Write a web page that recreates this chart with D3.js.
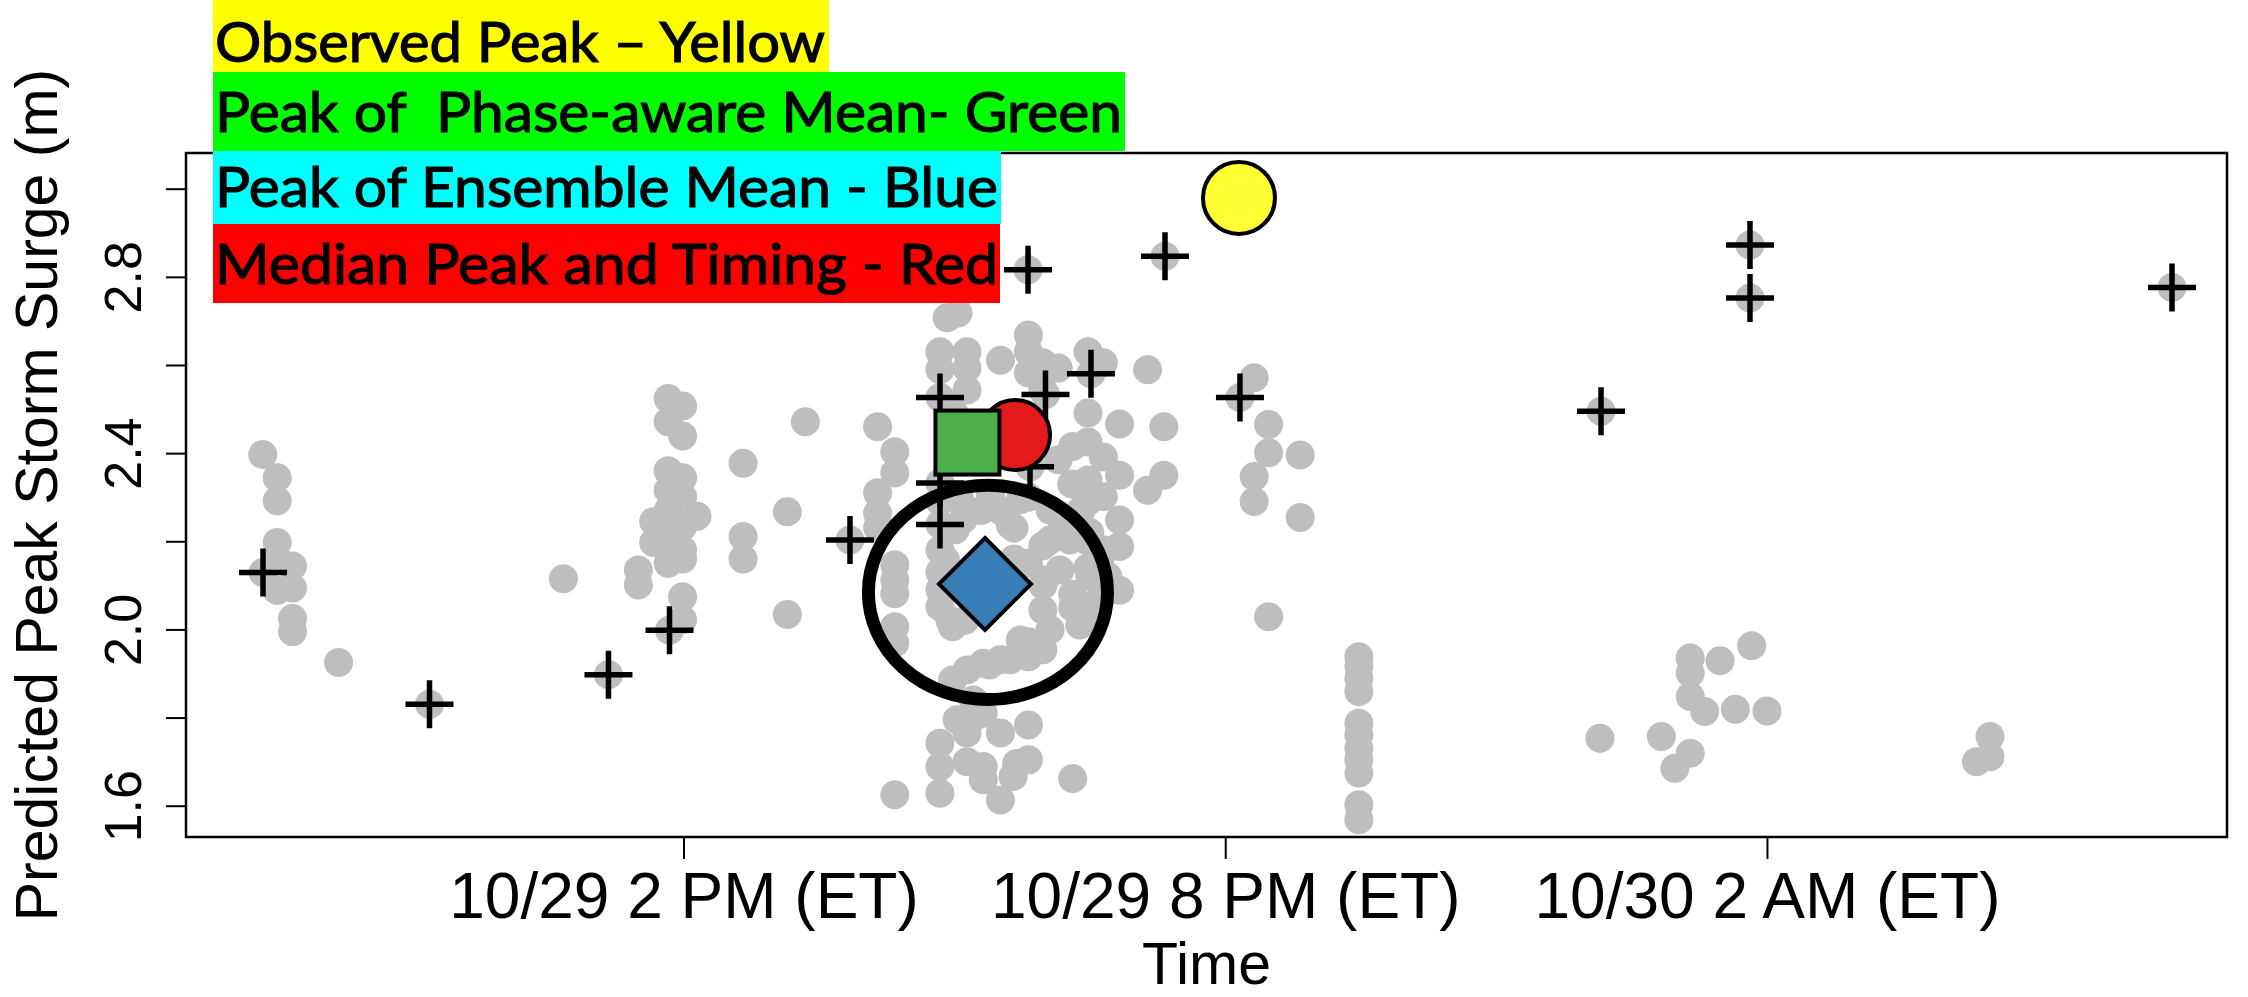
<!DOCTYPE html>
<html>
<head>
<meta charset="utf-8">
<script src="https://cdn.jsdelivr.net/npm/d3@7"></script>
<style>
  html, body { margin: 0; padding: 0; background: #fff; overflow: hidden; }
  svg { display: block; }
  .legend-text { white-space: pre; }
</style>
</head>
<body>
<svg id="chart" width="2248" height="997"></svg>
<script>
// Time is measured in hours from 10/29 00:00 ET; surge in metres.

// Peak timing / height of every ensemble member (grey dots)
const memberPeaks = [
  [9.34,2.397],[9.50,2.344],[9.50,2.292],[9.50,2.197],[9.50,2.160],[9.67,2.144],[9.67,2.094],
  [9.50,2.089],[9.67,2.025],[9.67,1.995],[10.18,1.925],
  [12.67,2.115],
  [13.83,2.524],[13.99,2.507],[13.83,2.471],[13.99,2.439],[13.99,2.344],[13.83,2.360],[13.83,2.316],
  [13.99,2.301],[13.83,2.270],[14.15,2.257],[13.67,2.245],[13.99,2.233],[13.83,2.211],[13.67,2.197],
  [13.99,2.180],[13.99,2.160],[13.83,2.150],[13.50,2.135],[13.50,2.101],[13.99,2.074],[13.99,2.022],
  [15.35,2.471],[14.66,2.377],[15.15,2.267],[14.66,2.211],[14.66,2.160],[15.15,2.034],[16.15,2.460],
  [16.34,2.403],[16.34,2.355],[16.15,2.310],[16.15,2.264],[16.15,2.231],[16.34,2.147],[16.34,2.112],
  [16.34,2.081],[16.34,2.006],[16.34,1.969],
  [16.92,2.707],[17.04,2.718],[16.84,2.630],[17.14,2.630],[16.84,2.589],[17.14,2.593],[17.14,2.543],
  [17.00,2.490],
  [17.51,2.611],[17.82,2.668],[17.82,2.630],[17.98,2.605],[17.82,2.582],[18.15,2.593],[17.98,2.543],
  [18.48,2.630],[18.65,2.605],[19.14,2.589],[18.48,2.491],[18.48,2.425],[18.83,2.466],[19.32,2.460],
  [18.31,2.415],[18.65,2.391],[18.83,2.350],[19.32,2.350],[19.14,2.316],[18.48,2.339],[18.65,2.301],
  [18.83,2.248],[18.83,2.188],[18.83,2.089],[18.15,2.385],[18.30,2.330],[18.40,2.270],[18.50,2.220],
  [18.65,2.180],[18.50,2.120],[18.31,2.050],
  [16.84,2.290],[16.84,2.180],[16.84,2.130],[16.84,2.090],[16.84,2.052],[16.98,2.006],[17.14,2.270],
  [17.51,2.270],[17.66,2.230],[17.82,2.300],[17.98,2.190],[17.82,2.150],[17.98,2.100],[17.98,2.044],
  [17.66,2.160],[18.48,2.290],[18.48,2.200],[18.48,2.140],[18.48,2.029],[18.31,2.250],[18.31,2.080],
  [17.30,2.270],[17.10,2.250],
  [17.06,2.294],[17.40,2.305],[17.73,2.294],[18.06,2.271],[18.28,2.203],[18.17,2.135],[18.34,2.067],
  [18.61,2.158],[18.61,2.067],[18.00,2.112],[18.06,2.203],[17.62,2.237],[17.01,2.226],[16.90,2.158],
  [16.95,2.021],[18.06,1.999],[18.39,2.010],[17.12,2.021],[18.20,2.240],[18.70,2.120],
  [17.73,1.976],[17.82,1.972],[17.82,1.938],[17.14,1.908],[17.32,1.923],[17.51,1.931],[16.98,1.885],
  [17.98,1.954],[17.62,1.931],[17.39,1.919],
  [17.21,1.840],[17.32,1.810],[17.51,1.765],[16.84,1.742],[17.14,1.765],[17.82,1.783],[17.82,1.704],
  [17.69,1.696],[17.32,1.689],[17.65,1.666],[17.32,1.659],[16.84,1.689],[16.84,1.628],[16.34,1.625],
  [17.51,1.613],[18.31,1.662],[17.14,1.700],[17.03,1.795],[17.21,1.800],
  [20.32,2.571],[20.48,2.465],[20.48,2.401],[20.83,2.396],[20.32,2.347],[20.32,2.290],[20.83,2.254],
  [20.48,2.029],
  [21.48,1.938],[21.48,1.916],[21.48,1.889],[21.48,1.859],[21.48,1.787],[21.48,1.761],[21.48,1.730],
  [21.48,1.704],[21.48,1.674],[21.48,1.602],[21.48,1.568],
  [24.15,1.753],[24.83,1.757],[25.15,1.719],[24.98,1.685],[25.15,1.935],[25.15,1.901],[25.48,1.929],
  [25.83,1.963],[25.15,1.848],[25.31,1.814],[25.65,1.819],[26.00,1.815],
  [28.47,1.757],[28.47,1.711],[28.32,1.700]
];

// Members marked with a cross
const crossPeaks = [
  [9.343,2.129],[11.187,1.830],[13.169,1.897],[13.845,1.998],[15.844,2.203],[16.841,2.526],
  [16.841,2.238],[16.841,2.332],[17.816,2.816],[18.009,2.533],[17.838,2.369],[18.513,2.580],
  [19.333,2.847],[20.163,2.526],[24.162,2.495],[25.812,2.872],[25.812,2.752],[30.486,2.776]
];

// Summary markers
const summaryNames  = ["median", "phaseAware", "ensembleMean", "observed"];
const summaryHours  = [17.672, 17.145, 17.339, 20.152];
const summarySurge  = [2.441, 2.424, 2.103, 2.979];
const summaryColors = ["#E41A1C", "#4DAF4A", "#377EB8", "#FFFF33"];

// Highlight ring around the ensemble mean: centre and half-axes (hours, metres)
const ringCentre = [17.372, 2.084];
const ringHalfAxes = [1.324, 0.243];

// Axes
const xTickHours  = [14, 20, 26];
const xTickLabels = ["10/29 2 PM (ET)", "10/29 8 PM (ET)", "10/30 2 AM (ET)"];
const yTickValues = [1.6, 1.8, 2.0, 2.2, 2.4, 2.6, 2.8, 3.0];
const yTickLabels = ["1.6", "", "2.0", "", "2.4", "", "2.8", ""];

// Colour key
const legendLabels = [
  "Observed Peak \u2013 Yellow",
  "Peak of  Phase-aware Mean- Green",
  "Peak of Ensemble Mean - Blue",
  "Median Peak and Timing - Red"
];
const legendColors = ["#FFFF00", "#00FF00", "#00FFFF", "#FF0000"];

// ---------------------------------------------------------------
const svg = d3.select("#chart");
const plot = { left: 186, right: 2227, top: 153, bottom: 837 };
const axisFont = "'Liberation Sans', Arial, sans-serif";

const x = d3.scaleLinear().domain([8.49, 31.095]).range([plot.left, plot.right]);
const y = d3.scaleLinear().domain([1.529, 3.081]).range([plot.bottom, plot.top]);

svg.append("rect").attr("width", 2248).attr("height", 997).attr("fill", "#fff");

// ensemble members
svg.append("g").selectAll("circle")
  .data(memberPeaks.concat(crossPeaks))
  .join("circle")
  .attr("cx", d => x(d[0]))
  .attr("cy", d => y(d[1]))
  .attr("r", 14.5)
  .attr("fill", "#BEBEBE");

// crosses
svg.append("g").selectAll("path")
  .data(crossPeaks)
  .join("path")
  .attr("transform", d => `translate(${x(d[0])},${y(d[1])})`)
  .attr("d", "M-24,0H24M0,-24V24")
  .attr("stroke", "#000")
  .attr("stroke-width", 5.5)
  .attr("fill", "none");

// summary markers
const markers = svg.append("g").attr("stroke", "#000").attr("stroke-width", 4);
summaryNames.forEach((name, i) => {
  const cx = x(summaryHours[i]), cy = y(summarySurge[i]);
  if (name === "median") {
    markers.append("circle").attr("cx", cx).attr("cy", cy).attr("r", 35).attr("fill", summaryColors[i]);
  } else if (name === "phaseAware") {
    markers.append("rect").attr("x", cx - 32).attr("y", cy - 32).attr("width", 64).attr("height", 64)
      .attr("fill", summaryColors[i]);
  } else if (name === "ensembleMean") {
    const h = 46;
    markers.append("path").attr("d", `M${cx},${cy - h}L${cx + h},${cy}L${cx},${cy + h}L${cx - h},${cy}Z`)
      .attr("fill", summaryColors[i]).attr("stroke-linejoin", "miter");
  } else {
    markers.append("circle").attr("cx", cx).attr("cy", cy).attr("r", 36).attr("fill", summaryColors[i]);
  }
});

// plot frame
svg.append("rect")
  .attr("x", plot.left).attr("y", plot.top)
  .attr("width", plot.right - plot.left).attr("height", plot.bottom - plot.top)
  .attr("fill", "none").attr("stroke", "#000").attr("stroke-width", 2.5);

// y axis
const yAxis = svg.append("g")
  .attr("transform", `translate(${plot.left},0)`)
  .call(d3.axisLeft(y).tickValues(yTickValues).tickSize(20).tickSizeOuter(0)
    .tickFormat((d, i) => yTickLabels[i]));
yAxis.select(".domain").remove();
yAxis.selectAll(".tick line").attr("stroke", "#000").attr("stroke-width", 2);
yAxis.selectAll(".tick text")
  .attr("transform", "rotate(-90)")
  .attr("x", 0).attr("y", -45).attr("dy", 0)
  .attr("text-anchor", "middle")
  .attr("fill", "#000")
  .style("font-family", axisFont).style("font-size", "52px");

// x axis
const xAxis = svg.append("g")
  .attr("transform", `translate(0,${plot.bottom})`)
  .call(d3.axisBottom(x).tickValues(xTickHours).tickSize(22).tickSizeOuter(0)
    .tickFormat((d, i) => xTickLabels[i]));
xAxis.select(".domain").remove();
xAxis.selectAll(".tick line").attr("stroke", "#000").attr("stroke-width", 2);
xAxis.selectAll(".tick text")
  .attr("y", 81).attr("dy", 0)
  .attr("fill", "#000")
  .style("font-family", axisFont).style("font-size", "64px");

// axis titles
svg.append("text")
  .attr("transform", `translate(57,${(plot.top + plot.bottom) / 2}) rotate(-90)`)
  .attr("text-anchor", "middle")
  .style("font-family", axisFont).style("font-size", "59px")
  .text("Predicted Peak Storm Surge (m)");
svg.append("text")
  .attr("x", (plot.left + plot.right) / 2).attr("y", 984)
  .attr("text-anchor", "middle")
  .style("font-family", axisFont).style("font-size", "59px")
  .text("Time");

// ring around the ensemble-mean peak
svg.append("ellipse")
  .attr("cx", x(ringCentre[0])).attr("cy", y(ringCentre[1]))
  .attr("rx", x(ringCentre[0] + ringHalfAxes[0]) - x(ringCentre[0]))
  .attr("ry", y(ringCentre[1]) - y(ringCentre[1] + ringHalfAxes[1]))
  .attr("fill", "none").attr("stroke", "#000").attr("stroke-width", 13);

// colour key
const keyBoxes = [
  { x0: 213, x1: 829,  y0: 0,   y1: 72,  base: 62,  tx1: 825 },
  { x0: 213, x1: 1125, y0: 72,  y1: 151, base: 132, tx1: 1122 },
  { x0: 213, x1: 1001, y0: 151, y1: 224, base: 207, tx1: 998 },
  { x0: 213, x1: 1000, y0: 224, y1: 303, base: 284, tx1: 998 }
];
const key = svg.append("g");
legendLabels.forEach((label, i) => {
  const b = keyBoxes[i];
  key.append("rect").attr("x", b.x0).attr("y", b.y0)
    .attr("width", b.x1 - b.x0).attr("height", b.y1 - b.y0)
    .attr("fill", legendColors[i]);
  key.append("text").attr("class", "legend-text")
    .attr("x", 215).attr("y", b.base)
    .attr("textLength", b.tx1 - 215).attr("lengthAdjust", "spacingAndGlyphs")
    .style("font-family", "Lato, 'Open Sans', sans-serif").style("font-size", "57px")
    .attr("fill", "#000").attr("stroke", "#000").attr("stroke-width", 1.2)
    .text(label);
});
</script>
</body>
</html>
